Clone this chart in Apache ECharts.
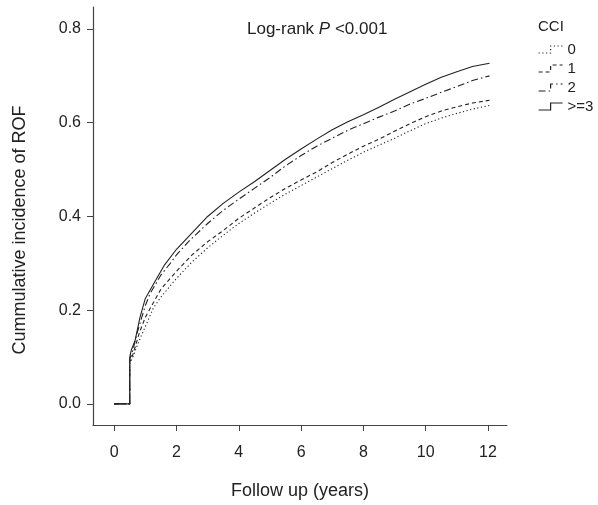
<!DOCTYPE html>
<html>
<head>
<meta charset="utf-8">
<script src="https://cdn.jsdelivr.net/npm/echarts@6/dist/echarts.min.js"></script>
<style>
html,body{margin:0;padding:0;background:#fff;}
#chart{width:598px;height:505px;}
</style>
</head>
<body>
<div id="chart"></div>
<script>
// Data (year, cumulative incidence)
const seriesNames = ['0', '1', '2', '>=3'];
const cci0 = [[0,0],[0.5,0],[0.5,0.085],[0.6,0.1],[0.8,0.135],[1.0,0.165],[1.26,0.205],[1.5,0.228],[2.0,0.268],[2.5,0.303],[3.0,0.333],[3.5,0.36],[4.0,0.385],[4.5,0.407],[5.0,0.428],[5.5,0.448],[6.0,0.466],[6.5,0.484],[7.0,0.502],[7.5,0.52],[8.0,0.537],[8.5,0.552],[9.0,0.567],[9.5,0.583],[10.0,0.598],[10.5,0.61],[11.0,0.62],[11.5,0.629],[12.05,0.637]];
const cci1 = [[0,0],[0.5,0],[0.5,0.09],[0.6,0.105],[0.8,0.15],[1.0,0.185],[1.5,0.245],[2.0,0.283],[2.5,0.318],[3.0,0.346],[3.5,0.37],[4.0,0.396],[4.5,0.418],[5.0,0.44],[5.5,0.46],[6.0,0.478],[6.5,0.495],[7.0,0.515],[7.5,0.533],[8.0,0.55],[8.5,0.565],[9.0,0.582],[9.5,0.598],[10.0,0.613],[10.5,0.625],[11.0,0.634],[11.5,0.642],[12.05,0.648]];
const cci2 = [[0,0],[0.5,0],[0.5,0.095],[0.6,0.115],[0.73,0.15],[1.0,0.21],[1.15,0.235],[1.5,0.275],[1.8,0.3],[2.0,0.318],[2.44,0.35],[3.0,0.385],[3.5,0.413],[4.0,0.437],[4.5,0.46],[5.0,0.483],[5.5,0.508],[6.0,0.53],[6.5,0.55],[7.0,0.567],[7.5,0.584],[8.0,0.598],[8.5,0.612],[9.0,0.625],[9.5,0.64],[10.0,0.652],[10.5,0.665],[11.0,0.677],[11.5,0.69],[12.05,0.7]];
const cci3 = [[0,0],[0.5,0],[0.5,0.1],[0.55,0.115],[0.67,0.135],[0.83,0.185],[1.0,0.225],[1.3,0.26],[1.6,0.295],[2.0,0.33],[2.5,0.365],[3.0,0.4],[3.5,0.428],[4.0,0.452],[4.5,0.474],[5.0,0.498],[5.5,0.522],[6.0,0.544],[6.5,0.565],[7.0,0.585],[7.5,0.602],[8.0,0.617],[8.5,0.633],[9.0,0.65],[9.5,0.666],[10.0,0.682],[10.5,0.697],[11.0,0.709],[11.5,0.72],[12.05,0.727]];
const xTicks = [0, 2, 4, 6, 8, 10, 12];
const yTicks = [0, 0.2, 0.4, 0.6, 0.8];

const ink = '#222';
const font = 'Liberation Sans, Arial, Helvetica, sans-serif';
const dashes = {
  '0': [1.2, 2.5],
  '1': [4, 3],
  '2': [7, 3, 1.5, 3],
  '>=3': 'solid'
};
const dataMap = {'0': cci0, '1': cci1, '2': cci2, '>=3': cci3};
const stepIcon = 'path://M0,7L12,7L12,0L24,0';

const chart = echarts.init(document.getElementById('chart'), null, {renderer: 'canvas'});
const option = {
  animation: false,
  backgroundColor: '#fff',
  textStyle: {fontFamily: font, color: ink},
  grid: {left: 93, right: 91, top: 7, bottom: 78, containLabel: false},
  title: {
    text: '{a|Log-rank }{p|P}{a| <0.001}',
    left: 247, top: 21, padding: 0,
    textStyle: {
      fontWeight: 'normal',
      rich: {
        a: {fontFamily: font, fontSize: 17, color: ink, fontWeight: 'normal'},
        p: {fontFamily: font, fontSize: 17, color: ink, fontStyle: 'italic', fontWeight: 'normal'}
      }
    }
  },
  graphic: [{
    type: 'text', left: 538, top: 19,
    style: {text: 'CCI', font: '15px ' + font, fill: ink}
  }],
  legend: {
    orient: 'vertical',
    left: 538, top: 42, padding: 0,
    itemGap: 4,
    itemWidth: 24, itemHeight: 7,
    icon: stepIcon,
    textStyle: {fontFamily: font, fontSize: 15, color: ink},
    data: seriesNames.map(n => ({
      name: n,
      icon: stepIcon,
      itemStyle: {color: 'rgba(0,0,0,0)', borderColor: ink, borderWidth: 1.2, borderType: dashes[n]}
    }))
  },
  xAxis: {
    type: 'value', min: -0.68, max: 12.61,
    name: 'Follow up (years)', nameLocation: 'middle', nameGap: 57,
    nameTextStyle: {fontFamily: font, fontSize: 18, color: ink},
    axisLine: {show: true, onZero: false, lineStyle: {color: '#444', width: 1.2}},
    axisTick: {show: true, length: 6, customValues: xTicks, lineStyle: {color: '#444'}},
    axisLabel: {customValues: xTicks, margin: 20, fontSize: 16, color: ink, fontFamily: font},
    splitLine: {show: false}
  },
  yAxis: {
    type: 'value', min: -0.045, max: 0.847,
    name: 'Cummulative incidence of ROF', nameLocation: 'middle', nameGap: 64,
    nameTextStyle: {fontFamily: font, fontSize: 18, color: ink, padding: [0, 28, 0, 0]},
    axisLine: {show: true, onZero: false, lineStyle: {color: '#444', width: 1.2}},
    axisTick: {show: true, length: 6, customValues: yTicks, lineStyle: {color: '#444'}},
    axisLabel: {customValues: yTicks, margin: 12, fontSize: 16, color: ink, fontFamily: font,
      formatter: v => v.toFixed(1)},
    splitLine: {show: false}
  },
  series: seriesNames.map(n => ({
    name: n, type: 'line', data: dataMap[n],
    showSymbol: false, symbol: 'none', smooth: false,
    lineStyle: {color: ink, width: 1.1, type: dashes[n]},
    itemStyle: {color: ink}
  }))
};
chart.setOption(option);
</script>
</body>
</html>
